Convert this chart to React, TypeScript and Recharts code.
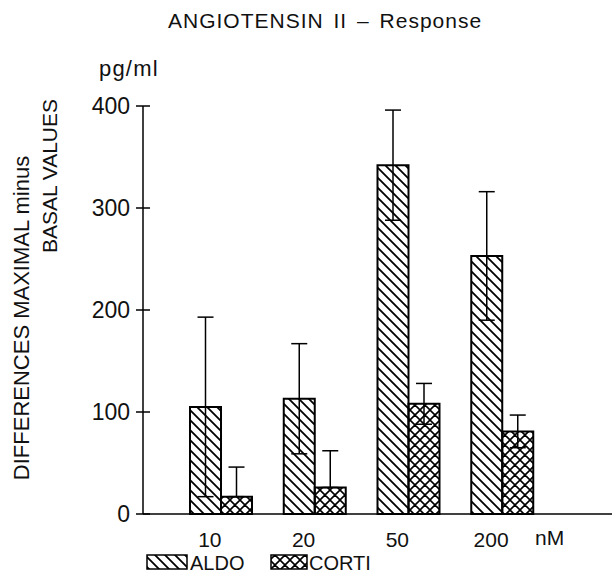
import React from "react";
import { BarChart, Bar, XAxis, YAxis, ErrorBar } from "recharts";

const doses = ["10", "20", "50", "200"];
const aldo = [105, 113, 342, 253];
const aldoErr = [88, 54, 54, 63];
const corti = [17, 26, 108, 81];
const cortiErrLow = [0, 0, 20, 16];
const cortiErrHigh = [29, 36, 20, 16];
const yTicks = [0, 100, 200, 300, 400];

const series = [
  { key: "aldo", name: "ALDO", fill: "url(#hatchAldo)" },
  { key: "corti", name: "CORTI", fill: "url(#hatchCorti)" },
];

const data = doses.map((d, i) => ({
  dose: d,
  aldo: aldo[i],
  aldoErr: aldoErr[i],
  corti: corti[i],
  cortiErr: [cortiErrLow[i], cortiErrHigh[i]],
}));

const FONT = "'Liberation Sans', Arial, sans-serif";

function YTick(props: any) {
  const { x, y, payload } = props;
  return (
    <g>
      <line x1={x - 7} x2={x + 7} y1={y} y2={y} stroke="#000" strokeWidth={1.5} />
      <text x={x - 13} y={y} dy={8} textAnchor="end" fontSize={23} fontFamily={FONT} fill="#111">
        {payload.value}
      </text>
    </g>
  );
}

function XTick(props: any) {
  const { x, y, payload } = props;
  return (
    <text x={x - 11} y={y + 31} textAnchor="middle" fontSize={21} fontFamily={FONT} fill="#111">
      {payload.value}
    </text>
  );
}

export default function App() {
  return (
    <div style={{ position: "absolute", left: 0, top: 0, background: "#fff" }}>
      <BarChart
        width={612}
        height={582}
        data={data}
        margin={{ top: 106, right: 0, bottom: 38, left: 83 }}
        barGap={0}
        barSize={31}
      >
        <defs>
          <pattern id="hatchAldo" patternUnits="userSpaceOnUse" width="10" height="10">
            <path d="M-5,5 L5,15 M0,0 L10,10 M5,-5 L15,5" stroke="#000" strokeWidth={1.8} />
          </pattern>
          <pattern id="hatchCorti" patternUnits="userSpaceOnUse" width="10" height="10">
            <path
              d="M-5,5 L5,15 M0,0 L10,10 M5,-5 L15,5 M-5,5 L5,-5 M0,10 L10,0 M5,15 L15,5"
              stroke="#000"
              strokeWidth={1.6}
            />
          </pattern>
        </defs>
        <XAxis
          dataKey="dose"
          padding={{ left: 31, right: 63 }}
          axisLine={{ stroke: "#000", strokeWidth: 1.5 }}
          tickLine={false}
          tickSize={0}
          tick={<XTick />}
          height={30}
        />
        <YAxis
          domain={[0, 400]}
          ticks={yTicks}
          width={60}
          axisLine={{ stroke: "#000", strokeWidth: 1.5 }}
          tickLine={false}
          tickSize={0}
          tickMargin={0}
          tick={<YTick />}
        />
        {series.map((s) => (
          <Bar
            key={s.key}
            dataKey={s.key}
            name={s.name}
            fill={s.fill}
            stroke="#000"
            strokeWidth={2}
            isAnimationActive={false}
          >
            <ErrorBar dataKey={s.key + "Err"} width={8} stroke="#000" strokeWidth={1.5} direction="y" />
          </Bar>
        ))}
        <text
          x={168}
          y={28}
          fontSize={21}
          letterSpacing={1}
          wordSpacing={3}
          fontFamily={FONT}
          fill="#111"
        >
          ANGIOTENSIN II – Response
        </text>
        <text x={99} y={76} fontSize={22} letterSpacing={1.2} fontFamily={FONT} fill="#111">
          pg/ml
        </text>
        <text
          x={29}
          y={318}
          transform="rotate(-90 29 318)"
          textAnchor="middle"
          fontSize={22}
          fontFamily={FONT}
          fill="#111"
        >
          DIFFERENCES MAXIMAL minus
        </text>
        <text
          x={57}
          y={176}
          transform="rotate(-90 57 176)"
          textAnchor="middle"
          fontSize={21}
          fontFamily={FONT}
          fill="#111"
        >
          BASAL VALUES
        </text>
        <text x={535} y={545} fontSize={21} fontFamily={FONT} fill="#111">
          nM
        </text>
        {series.map((s, i) => (
          <g key={s.key}>
            <rect
              x={147 + i * 124}
              y={555}
              width={i === 0 ? 40 : 36}
              height={14}
              fill={s.fill}
              stroke="#000"
              strokeWidth={1.5}
            />
            <text x={i === 0 ? 190 : 309} y={570} fontSize={20} fontFamily={FONT} fill="#111">
              {s.name}
            </text>
          </g>
        ))}
      </BarChart>
    </div>
  );
}
